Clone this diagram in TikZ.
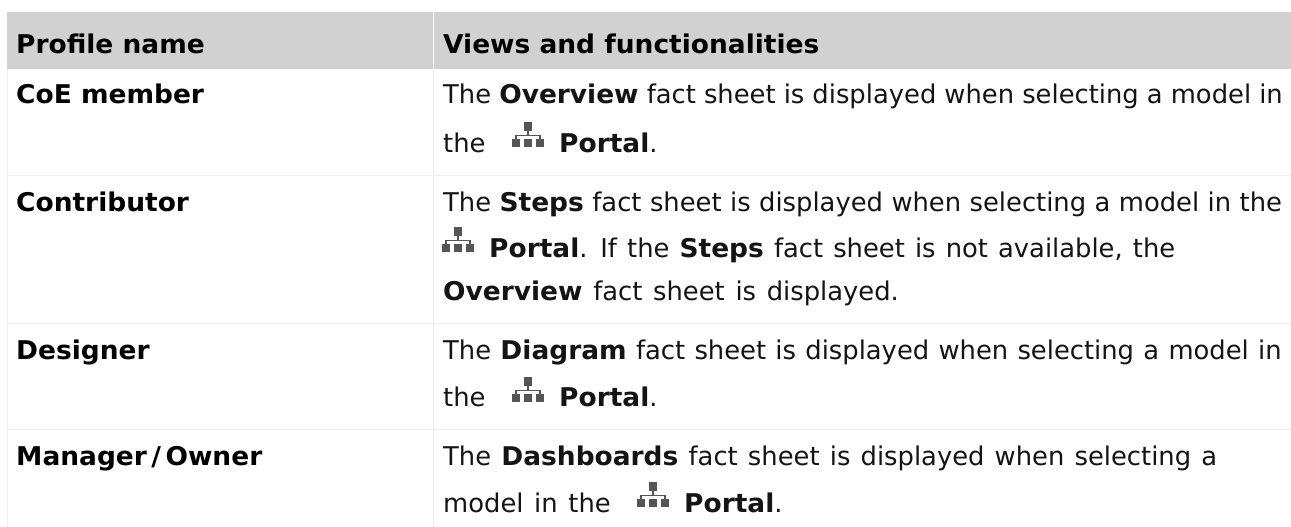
\documentclass[tikz,border=0pt]{standalone}
\usepackage{fontspec}
\setmainfont[BoldFeatures={FakeStretch=1.025}]{DejaVu Sans}
\definecolor{hdr}{HTML}{D1D1D1}
\definecolor{rule}{HTML}{EFEFEF}
\definecolor{ico}{HTML}{555555}
\definecolor{txt}{HTML}{141414}
\newcommand{\wordgap}[1]{\spaceskip=\dimexpr 8.2pt+#1pt\relax}
\tikzset{
  x=1pt,y=-1pt,
  hd/.style={anchor=base west,inner sep=0pt,font=\fontsize{25.8}{28}\selectfont\bfseries,text=black},
  nm/.style={anchor=base west,inner sep=0pt,font=\fontsize{25.8}{28}\selectfont\bfseries,text=black},
  ln/.style={anchor=base west,inner sep=0pt,font=\fontsize{25.8}{28}\selectfont,text=txt},
  gridline/.style={draw=rule,line width=1pt},
  portalicon/.pic={
    \fill[ico] (12,0) rectangle (20,9);
    \fill[ico] (0,17) rectangle (8,25);
    \fill[ico] (12,17) rectangle (20,25);
    \fill[ico] (24,17) rectangle (32,25);
    \draw[ico,line width=1.3pt] (16,9) -- (16,13.5) (4,17) -- (4,13.5) -- (28,13.5) -- (28,17);
  }
}
\begin{document}
\begin{tikzpicture}
\useasboundingbox (0,0) rectangle (1291,527);
\fill[white] (0,0) rectangle (1291,527);
\fill[hdr] (7,12) rectangle (1291,69);
\draw[white,line width=1pt] (433,12) -- (433,69);
\draw[gridline] (7,175) -- (1291,175);
\draw[gridline] (7,323) -- (1291,323);
\draw[gridline] (7,429) -- (1291,429);
\draw[gridline] (433,69) -- (433,527);
\draw[gridline] (7,69) -- (7,527);

\node[hd] (h1) at (16,54) {Profile name};
\node[hd] (h2) at (443,54) {Views and functionalities};

\node[nm] (n1) at (16,103) {CoE member};
\node[ln] (a1) at (443,103) {\wordgap{-0.1}The \textbf{Overview} fact sheet is displayed when selecting a model in};
\node[ln] (a2) at (443,152) {the};
\pic at (512,122) {portalicon};
\node[ln] (a3) at (559,152) {\textbf{Portal}.};

\node[nm] (n2) at (16,211) {Contributor};
\node[ln] (b1) at (443,211) {\wordgap{0.25}The \textbf{Steps} fact sheet is displayed when selecting a model in the};
\pic at (442,227) {portalicon};
\node[ln] (b2) at (489,257) {\wordgap{1.9}\textbf{Portal}. If the \textbf{Steps} fact sheet is not available, the};
\node[ln] (b3) at (443,300) {\wordgap{2.5}\textbf{Overview} fact sheet is displayed.};

\node[nm] (n3) at (16,359) {Designer};
\node[ln] (c1) at (443,359) {\wordgap{1.1}The \textbf{Diagram} fact sheet is displayed when selecting a model in};
\node[ln] (c2) at (443,406) {the};
\pic at (512,377) {portalicon};
\node[ln] (c3) at (559,406) {\textbf{Portal}.};

\node[nm] (n4) at (16,465) {Manager\kern4.5pt/\kern4.5pt Owner};
\node[ln] (d1) at (443,465) {\wordgap{2}The \textbf{Dashboards} fact sheet is displayed when selecting a};
\node[ln] (d2) at (443,512) {\wordgap{2.5}model in the};
\pic at (637,482) {portalicon};
\node[ln] (d3) at (684,512) {\textbf{Portal}.};
\end{tikzpicture}
\end{document}
